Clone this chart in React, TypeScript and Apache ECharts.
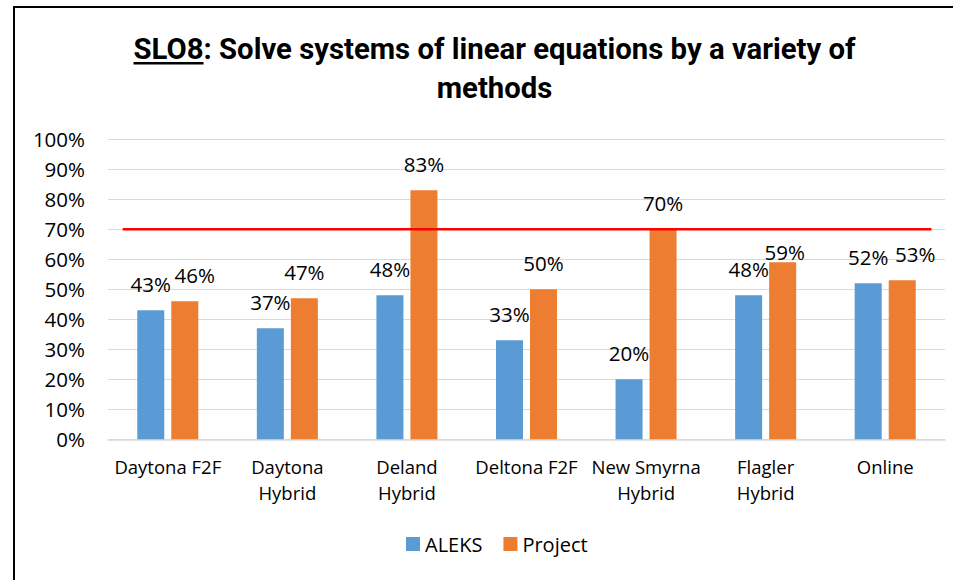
import React, { useEffect, useRef } from "react";
import * as echarts from "echarts";

const categories = [
  "Daytona F2F",
  "Daytona\nHybrid",
  "Deland\nHybrid",
  "Deltona F2F",
  "New Smyrna\nHybrid",
  "Flagler\nHybrid",
  "Online",
];
const aleksValues = [43, 37, 48, 33, 20, 48, 52];
const projectValues = [46, 47, 83, 50, 70, 59, 53];
const seriesNames = ["ALEKS", "Project"];
const targetValue = 70;
const targetSpan = [0.123, 6.887];
const titleBold = "SLO8";
const titleRest = ": Solve systems of linear equations by a variety of";
const titleLine2 = "methods";

// label nudges (pixel offsets) copied from the reference's manual label positions
const projectLabelOffsets: [number, number][] = [
  [10, 0],
  [0, 0],
  [0, 0],
  [0, 0],
  [0, 0],
  [2, 16],
  [13, 0],
];

const NUM_FONT = "'Open Sans', sans-serif";
const TXT_FONT = "'Open Sans', sans-serif";

function measure(text: string, font: string): number {
  const c = document.createElement("canvas").getContext("2d");
  if (!c) return text.length * 12;
  c.font = font;
  return c.measureText(text).width;
}

export default function App() {
  const ref = useRef<HTMLDivElement>(null);
  useEffect(() => {
    if (!ref.current) return;
    const chart = echarts.init(ref.current, undefined, { renderer: "svg" });

    const baseFs = 28;
    const w0 = measure(titleBold + titleRest, `bold ${baseFs}px Roboto`);
    const titleFs = (baseFs * 722) / w0;
    const tFont = `bold ${titleFs}px Roboto`;
    const wBold = measure(titleBold, tFont);
    const wLine = measure(titleBold + titleRest, tFont);
    const titleCx = 494.5;
    const left1 = titleCx - wLine / 2;

    const numLabel = {
      show: true,
      position: "top",
      distance: 16,
      formatter: "{c}%",
      fontFamily: NUM_FONT,
      fontSize: 20.5,
      color: "#000000",
    };

    chart.setOption({
      animation: false,
      backgroundColor: "#ffffff",
      graphic: [
        {
          type: "rect",
          shape: { x: 14, y: 7, width: 1000, height: 700 },
          style: { fill: "none", stroke: "#000000", lineWidth: 2 },
          silent: true,
        },
        {
          type: "text",
          x: left1,
          y: 49,
          style: {
            text: titleBold,
            font: tFont,
            fill: "#000000",
            textAlign: "left",
            textVerticalAlign: "middle",
          },
        },
        {
          type: "rect",
          shape: { x: left1, y: 62, width: wBold, height: 2.5 },
          style: { fill: "#000000" },
        },
        {
          type: "text",
          x: left1 + wBold,
          y: 49,
          style: {
            text: titleRest,
            font: tFont,
            fill: "#000000",
            textAlign: "left",
            textVerticalAlign: "middle",
          },
        },
        {
          type: "text",
          x: titleCx,
          y: 87.5,
          style: {
            text: titleLine2,
            font: tFont,
            fill: "#000000",
            textAlign: "center",
            textVerticalAlign: "middle",
          },
        },
      ],
      legend: {
        data: seriesNames,
        left: 406,
        top: 534,
        padding: 0,
        itemWidth: 14,
        itemHeight: 14,
        itemGap: 21,
        icon: "rect",
        textStyle: { fontFamily: TXT_FONT, fontSize: 20, color: "#000000" },
      },
      grid: { left: 108, right: 8, top: 139.3, bottom: 140.7, containLabel: false },
      xAxis: [
        {
          type: "category",
          data: categories,
          axisLine: { lineStyle: { color: "#d9d9d9", width: 1.5 } },
          axisTick: { show: false },
          axisLabel: {
            fontFamily: TXT_FONT,
            fontSize: 18.5,
            lineHeight: 26,
            color: "#000000",
            margin: 14,
            interval: 0,
          },
        },
        {
          type: "value",
          min: 0,
          max: 7,
          show: false,
        },
      ],
      yAxis: {
        type: "value",
        min: 0,
        max: 100,
        interval: 10,
        axisLine: { show: false },
        axisTick: { show: false },
        axisLabel: {
          formatter: "{value}%",
          fontFamily: NUM_FONT,
          fontSize: 20.5,
          color: "#000000",
          margin: 23,
        },
        splitLine: { lineStyle: { color: "#d9d9d9", width: 1.2 } },
      },
      series: [
        {
          name: seriesNames[0],
          type: "bar",
          data: aleksValues,
          barWidth: 27,
          barGap: "26%",
          itemStyle: { color: "#5b9bd5" },
          label: numLabel,
        },
        {
          name: seriesNames[1],
          type: "bar",
          data: projectValues.map((v, i) => ({
            value: v,
            label: { offset: projectLabelOffsets[i] },
          })),
          barWidth: 27,
          itemStyle: { color: "#ed7d31" },
          label: numLabel,
        },
        {
          name: "Target",
          type: "line",
          xAxisIndex: 1,
          data: [
            [targetSpan[0], targetValue],
            [targetSpan[1], targetValue],
          ],
          symbol: "none",
          z: 5,
          lineStyle: { color: "#ff0000", width: 2.5 },
          silent: true,
        },
      ],
    });
    return () => chart.dispose();
  }, []);
  return (
    <div
      ref={ref}
      style={{ position: "fixed", left: 0, top: 0, width: 953, height: 580 }}
    />
  );
}
